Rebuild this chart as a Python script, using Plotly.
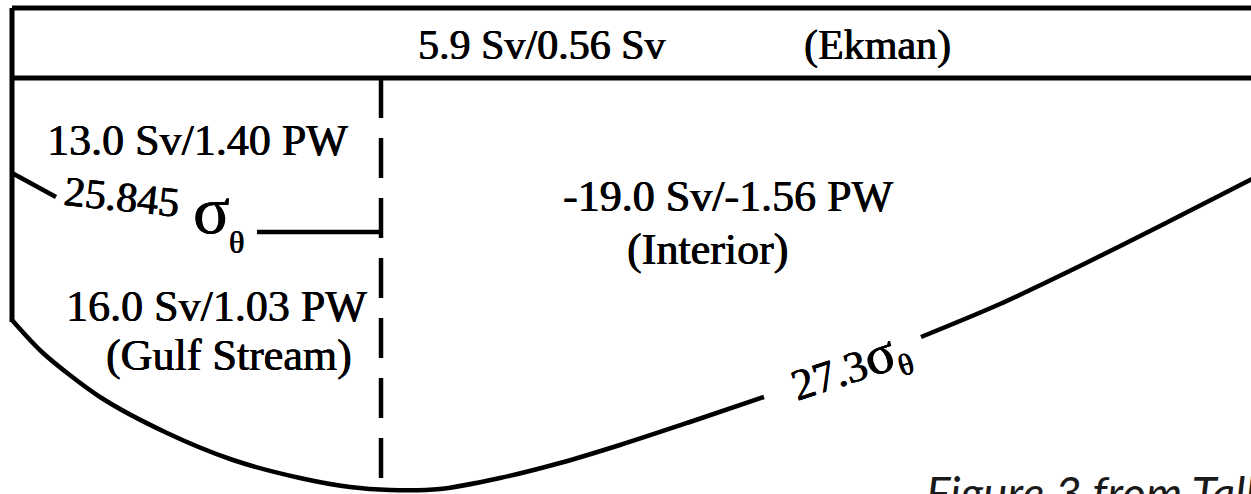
import plotly.graph_objects as go

# Transports (Sv) and heat transports (PW) for each box of the schematic
ekman_sv, ekman_pw = 5.9, 0.56
upper_gs_sv, upper_gs_pw = 13.0, 1.40
interior_sv, interior_pw = -19.0, -1.56
lower_gs_sv, lower_gs_pw = 16.0, 1.03

# Isopycnal values (sigma-theta)
sigma_upper = "25.845"
sigma_deep = "27.3"

# Section outline, in drawing units (x to the right, depth downward)
frame_top_x = [12, 1260]
frame_top_y = [8, 8]
ekman_base_x = [12, 1260]
ekman_base_y = [78, 78]
west_wall_x = [12, 12]
west_wall_y = [8, 322]

# 27.3 isopycnal: western wall to the deepest point, then rising eastward
deep_west_x = [12, 43, 100, 167, 233, 300, 350, 390, 440, 500, 560, 620, 690, 764]
deep_west_y = [320, 353, 397, 433, 460, 478, 487, 490, 489, 478, 463, 445, 422, 397]
deep_east_x = [921, 1000, 1084, 1160, 1260]
deep_east_y = [337, 304, 264, 226, 175]

# 25.845 isopycnal pieces
upper_iso_x = [12, 56]
upper_iso_y = [173, 197]
upper_iso_tail_x = [257, 381]
upper_iso_tail_y = [232, 232]

# Gulf Stream / interior divide
divide_x = [381, 381]
divide_y = [78, 490]

W, H = 1251, 494
ink = "black"
lw = 5

fig = go.Figure()


def seg(xs, ys, shape="linear", dash="solid", width=lw):
    fig.add_trace(go.Scatter(
        x=xs, y=ys, mode="lines",
        line=dict(color=ink, width=width, shape=shape, dash=dash, smoothing=0.8),
        hoverinfo="skip", showlegend=False,
    ))


seg(frame_top_x, frame_top_y)
seg(ekman_base_x, ekman_base_y)
seg(west_wall_x, west_wall_y)
seg(deep_west_x, deep_west_y, shape="spline", width=4.5)
seg(deep_east_x, deep_east_y, shape="spline", width=4.5)
seg(upper_iso_x, upper_iso_y, width=4.5)
seg(upper_iso_tail_x, upper_iso_tail_y, width=4.5)
seg(divide_x, divide_y, dash="40px,20px", width=4.5)

serif = "Liberation Serif"
heavy = "0.6px 0 0 black, -0.3px 0 0 black"


def label(text, x, y, size, xanchor="center", yanchor="middle", angle=0,
          family=serif, color=ink, shadow=heavy, style="normal"):
    fig.add_annotation(
        x=x, y=y, xref="x", yref="y", text=text, showarrow=False,
        xanchor=xanchor, yanchor=yanchor, textangle=angle,
        font=dict(family=family, size=size, color=color, shadow=shadow, style=style),
    )


label(f"{ekman_sv} Sv/{ekman_pw} Sv", 416, 45, 42, xanchor="left")
label("(Ekman)", 802, 45, 42, xanchor="left")
label(f"{upper_gs_sv:.1f} Sv/{upper_gs_pw:.2f} PW", 45, 140, 44, xanchor="left")
label(f"{interior_sv:.1f} Sv/{interior_pw:.2f} PW", 728, 196, 44)
label("(Interior)", 707, 249, 44)
label(f"{lower_gs_sv:.1f} Sv/{lower_gs_pw:.2f} PW", 369, 306, 44, xanchor="right")
label("(Gulf Stream)", 354, 355, 44, xanchor="right")

# 25.845 sigma-theta label on the upper isopycnal
label(sigma_upper, 122, 197, 42, angle=6)
label("σ", 211, 210, 68)
label("θ", 236, 242, 32)

# 27.3 sigma-theta label along the deep isopycnal
label(f"{sigma_deep}<span style='font-size:56px'>σ</span><sub>θ</sub>",
      850, 366, 44, angle=-18)

# Source caption
label("Figure 3 from Talley (2003)", 924, 463, 46, xanchor="left", yanchor="top",
      family="Lato", color="#1a1a1a", shadow="none", style="italic")

fig.update_layout(
    width=W, height=H,
    margin=dict(l=0, r=0, t=0, b=0),
    paper_bgcolor="white", plot_bgcolor="white",
    xaxis=dict(range=[0, W], visible=False, fixedrange=True),
    yaxis=dict(range=[H, 0], visible=False, fixedrange=True),
)

fig.write_html("out.html")
